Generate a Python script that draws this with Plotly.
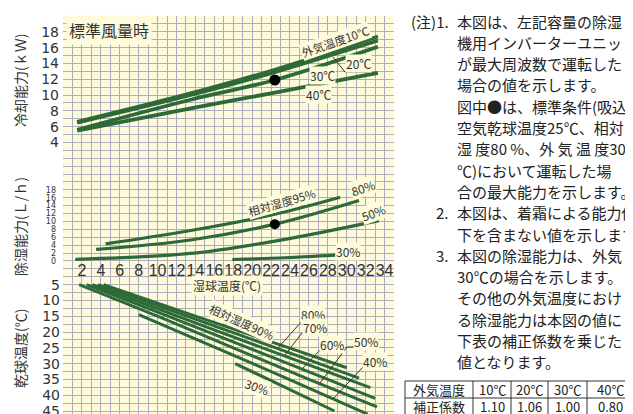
import plotly.graph_objects as go

# ---- 冷却能力 (kW) : 湿球温度 vs 外気温度別 ----
cool_x = [1.5, 13.5, 22.4, 33.3]
cool_10 = [6.6, 10.2, 13.2, 17.4]
cool_20 = [6.5, 10.0, 12.9, 16.9]
cool_30 = [5.6, 9.4, 11.9, 16.1]
cool_40 = [5.5, 8.3, 10.3, 12.8]
cool_std = [22.4, 11.9]

# ---- 除湿能力 (L/h) : 相対湿度別 ----
dh95_x = [4.5, 13.5, 22.4, 29.3]
dh95_y = [4.3, 7.7, 11.8, 16.1]
dh80_x = [3.5, 13.5, 22.4, 31.3]
dh80_y = [2.9, 5.3, 9.3, 15.3]
dh50_x = [1.3, 13.5, 22.4, 33.4]
dh50_y = [0.4, 1.9, 5.0, 10.2]
dh30_x = [17.9, 23.5, 28.8]
dh30_y = [0.35, 0.8, 1.45]
dh_std = [22.4, 9.3]

# ---- 乾球温度 (℃) : 相対湿度別 ----
rh90_x = [4.3, 14.0, 23.9, 30.0]
rh90_t = [5, 15, 25, 31.3]
rh80_x = [3.7, 13.1, 22.5, 31.3]
rh80_t = [5, 15, 25, 34.6]
rh70_x = [3.1, 12.1, 21.1, 32.5]
rh70_t = [5, 15, 25, 37.6]
rh60_x = [2.5, 11.1, 19.6, 28.0, 33.0]
rh60_t = [5, 15, 25, 35, 41.0]
rh50_x = [1.7, 10.0, 18.0, 26.0, 33.2]
rh50_t = [5, 15, 25, 35, 43.7]
rh40_x = [8.0, 16.2, 23.9, 32.2]
rh40_t = [14.5, 25, 35, 46]
rh30_x = [18.2, 23.5, 28.7]
rh30_t = [30, 37.5, 45]

# ticks
top_ticks = [4, 6, 8, 10, 12, 14, 16, 18, 20]
dh_ticks = [0, 2, 4, 6, 8, 10, 12, 14, 16, 18]
db_ticks = [5, 10, 15, 20, 25, 30, 35, 40, 45]
wb_ticks = list(range(2, 35, 2))

notes = [
    "本図は、左記容量の除湿",
    "機用インバーターユニット",
    "が最大周波数で運転した",
    "場合の値を示します。",
    "図中●は、標準条件(吸込",
    "空気乾球温度25℃、相対",
    "湿 度80 %、外 気 温 度30",
    "℃)において運転した場",
    "合の最大能力を示します。",
    "本図は、着霜による能力低",
    "下を含まない値を示します。",
    "本図の除湿能力は、外気",
    "30℃の場合を示します。",
    "その他の外気温度におけ",
    "る除湿能力は本図の値に",
    "下表の補正係数を乗じた",
    "値となります。",
]
note_marks = {0: "(注)1.", 9: "2.", 11: "3."}

table_head = ["外気温度", "10℃", "20℃", "30℃", "40℃"]
table_row = ["補正係数", "1.10", "1.06", "1.00", "0.80"]

W, H = 633, 414
OFF = 8                # page body margin: figure starts 8px right/down
GREEN = "#2d6a37"
BG = "#fefadc"
GRIDC = "#adadbf"
TXT = "#333333"
JP = "Noto Sans CJK JP"
LAT = "DejaVu Sans"

X0, X1 = 63, 394       # grid left/right (screen px)
T0 = 16                # grid top (screen px)
CELL = 7.9
span = (H + OFF - T0) / CELL


def px(x):
    return (x - OFF) / W


def py(y):
    return 1 - (y - OFF) / H


fig = go.Figure()


def line(x, y, xa="x", ya="y", w=3.5):
    fig.add_trace(go.Scatter(x=x, y=y, xaxis=xa, yaxis=ya, mode="lines",
                             line=dict(color=GREEN, width=w, shape="spline"),
                             hoverinfo="skip"))


for ys in [cool_40, cool_30, cool_20, cool_10]:
    line(cool_x, ys, w=3.8)
fig.add_trace(go.Scatter(x=[cool_std[0]], y=[cool_std[1]], mode="markers",
                         marker=dict(color="black", size=11)))

for xs, ys in [(dh30_x, dh30_y), (dh50_x, dh50_y), (dh80_x, dh80_y), (dh95_x, dh95_y)]:
    line(xs, ys, xa="x2", ya="y3", w=3.2)
fig.add_trace(go.Scatter(x=[dh_std[0]], y=[dh_std[1]], xaxis="x2", yaxis="y3",
                         mode="markers", marker=dict(color="black", size=10)))

for xs, ts in [(rh30_x, rh30_t), (rh40_x, rh40_t), (rh50_x, rh50_t), (rh60_x, rh60_t),
               (rh70_x, rh70_t), (rh80_x, rh80_t), (rh90_x, rh90_t)]:
    line(xs, ts, ya="y4", w=3)

dom_x = [px(X0), px(X1)]
dom_y = [0, py(T0)]
axfont = dict(family=LAT, size=14, color=TXT)

fig.update_layout(
    template="none", width=W, height=H, showlegend=False,
    margin=dict(l=0, r=0, t=0, b=0),
    paper_bgcolor="white", plot_bgcolor=BG,
    xaxis=dict(domain=dom_x, range=[0, 35], dtick=1, tick0=0, showgrid=True,
               gridcolor=GRIDC, gridwidth=1, showticklabels=False, ticks="",
               zeroline=False, showline=False, automargin=False, anchor="y"),
    xaxis2=dict(domain=dom_x, range=[0, 35], overlaying="x", anchor="free",
                position=py(259), side="bottom", tickvals=wb_ticks, ticks="",
                tickangle=0, showgrid=False, zeroline=False, showline=False,
                automargin=False, ticklabelstandoff=0,
                tickfont=dict(family="Liberation Sans", size=16, color=TXT)),
    yaxis=dict(domain=dom_y, range=[20 - span, 20],
               tickvals=list(range(-31, 21)),
               ticktext=[str(v) if v in top_ticks else "" for v in range(-31, 21)],
               showgrid=True, gridcolor=GRIDC, gridwidth=1, ticks="",
               zeroline=False, showline=False, automargin=False,
               tickfont=axfont, ticklabelstandoff=3, anchor="x"),
    yaxis3=dict(domain=dom_y, range=[62 - 2 * span, 62], overlaying="y", anchor="x2",
                tickvals=dh_ticks, showgrid=False, zeroline=False, ticks="",
                showline=False, automargin=False, ticklabelstandoff=6,
                tickfont=dict(family=LAT, size=8, color=TXT)),
    yaxis4=dict(domain=dom_y, range=[-80 + 2.5 * span, -80], overlaying="y", anchor="x",
                tickvals=db_ticks, showgrid=False, zeroline=False, ticks="",
                showline=False, automargin=False, ticklabelstandoff=2,
                tickfont=axfont),
)

# cream box hiding the grid behind x tick labels
fig.add_shape(type="rect", xref="paper", yref="paper", x0=px(73), x1=px(X1),
              y0=py(278), y1=py(262), fillcolor=BG, line_width=0, layer="between")


def label(text, x, y, size=12, angle=0, bg=BG, family=JP, pad=0, color=TXT):
    fig.add_annotation(text=text, x=px(x), y=py(y), xref="paper", yref="paper",
                       xanchor="center", yanchor="middle",
                       showarrow=False, textangle=angle, bgcolor=bg, borderpad=pad,
                       font=dict(family=family, size=size, color=color))


label("標準風量時", 109, 30, size=16, pad=2)
label("外気温度10℃", 336, 41, size=11.5, angle=-19)
label("20℃", 358, 64)
label("30℃", 322, 75)
label("40℃", 318, 94)
label("相対湿度95%", 282, 202, size=11.5, angle=-16)
label("80%", 363, 188, angle=-18)
label("50%", 373, 212, angle=-20)
label("30%", 348, 251)
label("湿球温度(℃)", 227, 285, size=12, pad=1)
label("相対湿度90%", 242, 322, size=11.5, angle=24)
label("80%", 313, 314)
label("70%", 315, 327)
label("60%", 332, 344)
label("50%", 366, 341)
label("40%", 375, 361)
label("30%", 257, 386, angle=20)

leaders = [
    [(333, 57), (345, 72), (370, 72)],
    [(278, 348), (302, 321), (325, 321)],
    [(285, 355), (302, 333), (327, 333)],
    [(303, 368), (320, 350), (345, 350)],
    [(320, 383), (347, 347), (378, 347)],
    [(333, 399), (363, 367), (388, 367)],
]
for pts in leaders:
    path = "M " + " L ".join(f"{px(a):.5f},{py(b):.5f}" for a, b in pts)
    fig.add_shape(type="path", path=path, xref="paper", yref="paper",
                  line=dict(color="#333", width=1), layer="above")

# axis titles
for text, y in [("冷却能力(ｋＷ)", 81), ("除湿能力(Ｌ/ｈ)", 227), ("乾球温度(℃)", 349)]:
    fig.add_annotation(text=text, x=px(20), y=py(y), xref="paper", yref="paper",
                       xanchor="center", yanchor="middle",
                       showarrow=False, textangle=-90,
                       font=dict(family=JP, size=14, color=TXT))

# notes
for i, t in enumerate(notes):
    yy = 21 + i * 21.3
    fig.add_annotation(text=t, x=px(455), y=py(yy), xref="paper", yref="paper",
                       xanchor="left", yanchor="middle", showarrow=False,
                       font=dict(family=JP, size=15, color="#222"))
    if i in note_marks:
        fig.add_annotation(text=note_marks[i], x=px(451), y=py(yy),
                           xref="paper", yref="paper",
                           xanchor="right", yanchor="middle", showarrow=False,
                           font=dict(family=JP, size=15, color="#222"))

# correction table (outline + cell texts)
col_w = [68, 38, 37, 39, 46]
tab_x, tab_rows = 405, [381, 398, 415]
edges = [tab_x]
for w in col_w:
    edges.append(edges[-1] + w)
for yy in tab_rows:
    fig.add_shape(type="line", xref="paper", yref="paper", x0=px(edges[0]), x1=px(edges[-1]),
                  y0=py(yy), y1=py(yy), line=dict(color="#333", width=1))
for xx in edges:
    fig.add_shape(type="line", xref="paper", yref="paper", x0=px(xx), x1=px(xx),
                  y0=py(tab_rows[0]), y1=py(tab_rows[-1]), line=dict(color="#333", width=1))
for r, row in enumerate([table_head, table_row]):
    yc = (tab_rows[r] + tab_rows[r + 1]) / 2
    for c, val in enumerate(row):
        label(val, (edges[c] + edges[c + 1]) / 2, yc, size=13, bg=None, color="#222")

fig.write_html("out.html")
